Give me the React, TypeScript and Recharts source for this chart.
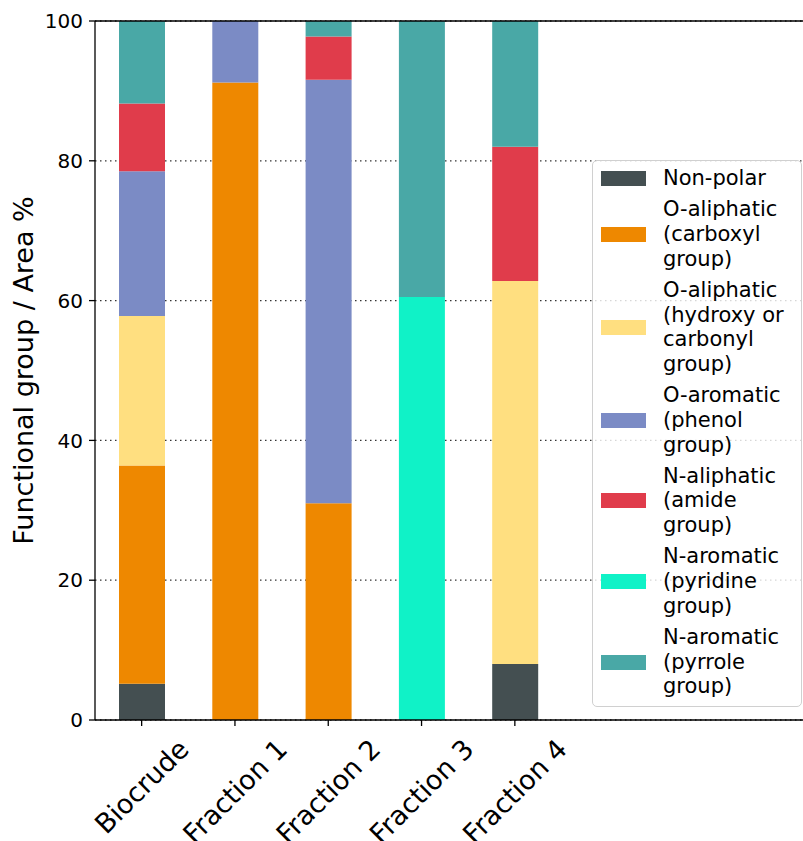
import React from 'react';
import {
  BarChart,
  Bar,
  XAxis,
  YAxis,
  CartesianGrid,
  ReferenceLine,
  Legend,
  Label,
} from 'recharts';

const FONT = '"DejaVu Sans", Verdana, sans-serif';

const categories = ['Biocrude', 'Fraction 1', 'Fraction 2', 'Fraction 3', 'Fraction 4'];
const yTicks = [0, 20, 40, 60, 80, 100];

// area % per functional group, one value per sample
const nonPolar = [5.2, 0, 0, 0, 8.0];
const oAliphaticCarboxyl = [31.2, 91.2, 31.0, 0, 0];
const oAliphaticHydroxy = [21.4, 0, 0, 0, 54.8];
const oAromaticPhenol = [20.7, 8.8, 60.6, 0, 0];
const nAliphaticAmide = [9.7, 0, 6.2, 0, 19.2];
const nAromaticPyridine = [0, 0, 0, 60.5, 0];
const nAromaticPyrrole = [11.8, 0, 2.2, 39.5, 18.0];

const series = [
  { key: 'nonPolar', name: 'Non-polar', values: nonPolar, color: '#444f51' },
  { key: 'carboxyl', name: 'O-aliphatic\n(carboxyl\ngroup)', values: oAliphaticCarboxyl, color: '#ee8800' },
  { key: 'hydroxy', name: 'O-aliphatic\n(hydroxy or\ncarbonyl\ngroup)', values: oAliphaticHydroxy, color: '#ffdf80' },
  { key: 'phenol', name: 'O-aromatic\n(phenol\ngroup)', values: oAromaticPhenol, color: '#7b8bc5' },
  { key: 'amide', name: 'N-aliphatic\n(amide\ngroup)', values: nAliphaticAmide, color: '#e03c4b' },
  { key: 'pyridine', name: 'N-aromatic\n(pyridine\ngroup)', values: nAromaticPyridine, color: '#10f2c7' },
  { key: 'pyrrole', name: 'N-aromatic\n(pyrrole\ngroup)', values: nAromaticPyrrole, color: '#49a8a6' },
];
const seriesOrder = series.map((s) => s.key);

const chartData = categories.map((name, i) => {
  const row: Record<string, number | string> = { name };
  series.forEach((s) => {
    row[s.key] = s.values[i];
  });
  return row;
});

const X_TICK_SIZE = 27;

let ctx: CanvasRenderingContext2D | null = null;
function textWidth(text: string, size: number) {
  if (!ctx) ctx = document.createElement('canvas').getContext('2d');
  if (!ctx) return text.length * size * 0.6;
  ctx.font = `${size}px ${FONT}`;
  return ctx.measureText(text).width;
}

// rotated label whose bounding box is centred under the tick
const AngledTick = (props: any) => {
  const { x, y, payload } = props;
  const label = String(payload.value);
  const w = textWidth(label, X_TICK_SIZE);
  const h = X_TICK_SIZE * 1.17;
  const d = ((w + h) / 2) * Math.SQRT1_2;
  const cx = x;
  const cy = y + 5 + d;
  return (
    <text
      x={cx}
      y={cy}
      transform={`rotate(-45 ${cx} ${cy})`}
      textAnchor="middle"
      dominantBaseline="central"
      fontSize={X_TICK_SIZE}
      fontFamily={FONT}
      fill="#000"
    >
      {label}
    </text>
  );
};

const LegendBox = (props: any) => {
  const items = [...(props.payload || [])].sort(
    (a: any, b: any) => seriesOrder.indexOf(a.dataKey) - seriesOrder.indexOf(b.dataKey)
  );
  return (
    <div
      style={{
        boxSizing: 'border-box',
        width: 210,
        height: 547,
        padding: '5px 0 0 8px',
        background: 'rgba(255,255,255,0.8)',
        border: '1.3px solid #d0d0d0',
        borderRadius: 5,
        fontFamily: FONT,
        fontSize: 21,
        lineHeight: '24.7px',
        color: '#000',
      }}
    >
      {items.map((it: any, i: number) => (
        <div
          key={i}
          style={{ display: 'flex', alignItems: 'center', marginBottom: 6.5 }}
        >
          <span
            style={{
              display: 'inline-block',
              width: 45,
              height: 15,
              background: it.color,
              marginRight: 17,
              flexShrink: 0,
            }}
          />
          <span style={{ whiteSpace: 'pre-line' }}>{it.value}</span>
        </div>
      ))}
    </div>
  );
};

export default function App() {
  return (
    <div
      style={{
        position: 'absolute',
        left: 0,
        top: 0,
        width: 803,
        height: 841,
        overflow: 'hidden',
        background: '#fff',
      }}
    >
      <BarChart
        width={830}
        height={841}
        data={chartData}
        margin={{ top: 21, right: 0, left: 0, bottom: 0 }}
      >
        <CartesianGrid
          vertical={false}
          stroke="#333"
          strokeDasharray="1.5 3.5"
          strokeWidth={1.3}
        />
        <XAxis
          dataKey="name"
          height={121}
          padding={{ left: 0, right: 268.5 }}
          axisLine={{ stroke: '#000', strokeWidth: 1.3 }}
          tickLine={{ stroke: '#000', strokeWidth: 1.3 }}
          tickSize={6}
          tick={<AngledTick />}
          interval={0}
        />
        <YAxis
          width={95}
          domain={[0, 100]}
          ticks={yTicks}
          allowDataOverflow
          axisLine={{ stroke: '#000', strokeWidth: 1.3 }}
          tickLine={{ stroke: '#000', strokeWidth: 1.3 }}
          tickSize={6}
          tickMargin={6}
          tick={{ fontSize: 20, fontFamily: FONT, fill: '#000' }}
        >
          <Label
            value="Functional group / Area %"
            angle={-90}
            position="insideLeft"
            offset={23}
            style={{ fontSize: 27, fontFamily: FONT, fill: '#000', textAnchor: 'middle' }}
          />
        </YAxis>
        {series.map((s) => (
          <Bar
            key={s.key}
            dataKey={s.key}
            name={s.name}
            stackId="a"
            fill={s.color}
            barSize={46}
            isAnimationActive={false}
          />
        ))}
        <ReferenceLine y={100} stroke="#000" strokeWidth={1.3} />
        <Legend
          layout="vertical"
          align="center"
          verticalAlign="middle"
          content={<LegendBox />}
          wrapperStyle={{ left: 592, top: 160, width: 210 }}
        />
      </BarChart>
    </div>
  );
}
